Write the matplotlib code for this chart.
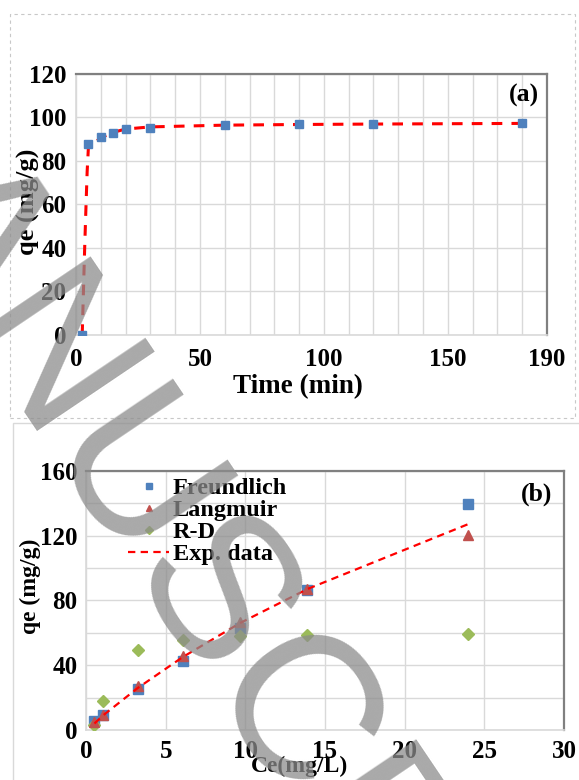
import matplotlib
matplotlib.use("Agg")
import matplotlib.pyplot as plt
from matplotlib.patches import Rectangle

# (a) kinetics
t_exp = [2.5, 5, 10, 15, 20, 30, 60, 90, 120, 180]
qt_exp = [0, 87.6, 91.0, 92.8, 94.6, 95.0, 96.2, 96.6, 96.6, 97.2]
t_fit = [2.5, 3.0, 3.5, 4.0, 4.5, 5, 10, 15, 20, 30, 60, 90, 120, 180]
qt_fit = [0, 20, 40, 58, 75, 86, 90.5, 93, 94.5, 95.5, 96.3, 96.6, 96.8, 97.1]

# (b) isotherms
ce = [0.53, 1.07, 3.26, 6.07, 9.67, 13.9, 23.98]
q_freundlich = [5.6, 9.1, 25.2, 42.6, 63.0, 86.4, 139.5]
q_langmuir = [5.0, 9.3, 26.9, 45.9, 66.7, 86.8, 120.2]
q_rd = [3.1, 18.2, 49.6, 55.8, 57.9, 58.5, 59.3]
q_exp = [4, 9, 26, 45, 66, 87, 127]

W, H = 579, 780
fig = plt.figure(figsize=(W / 100, H / 100), dpi=100)
serif = "Liberation Serif"


def fx(x):
    return x / W


def fy(y):
    return 1 - y / H


def frame(ax):
    for s in ["left", "bottom"]:
        ax.spines[s].set_color("#d9d9d9")
        ax.spines[s].set_linewidth(1.2)
    for s in ["top", "right"]:
        ax.spines[s].set_color("#808080")
        ax.spines[s].set_linewidth(1.6)
    ax.tick_params(length=0, labelsize=18)
    for lab in ax.get_xticklabels() + ax.get_yticklabels():
        lab.set_fontfamily(serif)
        lab.set_fontweight("bold")
    ax.set_axisbelow(True)


# outer boxes
fig.patches.append(Rectangle((fx(10), fy(418)), fx(565), (418 - 14) / H, transform=fig.transFigure,
                             fill=False, ec="#c8c8c8", lw=0.8, ls=(0, (3, 3))))
fig.patches.append(Rectangle((fx(13), fy(800)), fx(600), (800 - 423) / H, transform=fig.transFigure,
                             fill=False, ec="#d9d9d9", lw=1.0))

# ---- panel (a)
ax1 = fig.add_axes([fx(76), fy(335), (547 - 76) / W, (335 - 73.5) / H])
ax1.plot(t_fit, qt_fit, color="#ff0000", lw=2.2, dashes=(3.5, 3), zorder=2)
ax1.plot(t_exp, qt_exp, "s", color="#4f81bd", ms=6, zorder=3)
ax1.set_xlim(0, 190)
ax1.set_ylim(0, 120)
ax1.set_xticks([0, 50, 100, 150, 190])
ax1.set_xticks(range(0, 191, 10), minor=True)
ax1.set_yticks(range(0, 121, 20))
ax1.grid(True, which="both", color="#d9d9d9", lw=1)
ax1.tick_params(axis="x", which="both", pad=9, length=0)
ax1.tick_params(axis="y", pad=7)
frame(ax1)
fig.text(fx(524), fy(95), "(a)", family=serif, weight="bold", size=18.5, ha="center", va="center")
fig.text(fx(298), fy(387), "Time (min)", family=serif, weight="bold", size=19.5, ha="center", va="center")
fig.text(fx(28), fy(202), "qe (mg/g)", family=serif, weight="bold", size=19, rotation=90,
         ha="center", va="center")

# ---- panel (b)
ax2 = fig.add_axes([fx(86), fy(730), (564 - 86) / W, (730 - 470.7) / H])
ax2.plot(ce, q_freundlich, "s", color="#4f81bd", ms=7.5, label="Freundlich", zorder=3)
ax2.plot(ce, q_langmuir, "^", color="#c0504d", ms=6.5, label="Langmuir", zorder=4)
ax2.plot(ce, q_rd, "D", color="#9bbb59", ms=6, label="R-D", zorder=3)
ax2.plot(ce, q_exp, color="#ff0000", lw=1.6, dashes=(3.3, 2.4), label="Exp. data", zorder=5)
ax2.set_xlim(0, 30)
ax2.set_ylim(0, 160)
ax2.set_xticks(range(0, 31, 5))
ax2.set_yticks(range(0, 161, 40))
ax2.set_yticks(range(0, 161, 20), minor=True)
ax2.grid(True, which="both", color="#d9d9d9", lw=1)
ax2.tick_params(axis="both", which="both", length=0)
ax2.tick_params(axis="x", pad=7)
ax2.tick_params(axis="y", pad=6)
frame(ax2)
ax2.legend(loc="upper left", bbox_to_anchor=((128 - 86) / 478, 0.975), frameon=False,
           borderaxespad=0, borderpad=0, handlelength=1.7, handletextpad=0.15,
           labelspacing=0.0, markerscale=0.65,
           prop={"family": serif, "weight": "bold", "size": 17.5})
fig.text(fx(537), fy(494), "(b)", family=serif, weight="bold", size=18.5, ha="center", va="center")
fig.text(fx(299), fy(766), "Ce(mg/L)", family=serif, weight="bold", size=17, ha="center", va="center")
fig.text(fx(30), fy(586), "qe (mg/g)", family=serif, weight="bold", size=17, rotation=90,
         ha="center", va="center")

# watermark
fig.text(fx(207), fy(614), "MANUSCRIPT", family="Liberation Sans", size=148,
         rotation=-56, rotation_mode="anchor", ha="center", va="center",
         color="#8c8c8c", alpha=0.75, zorder=10)

fig.savefig("out.png", dpi=100)
